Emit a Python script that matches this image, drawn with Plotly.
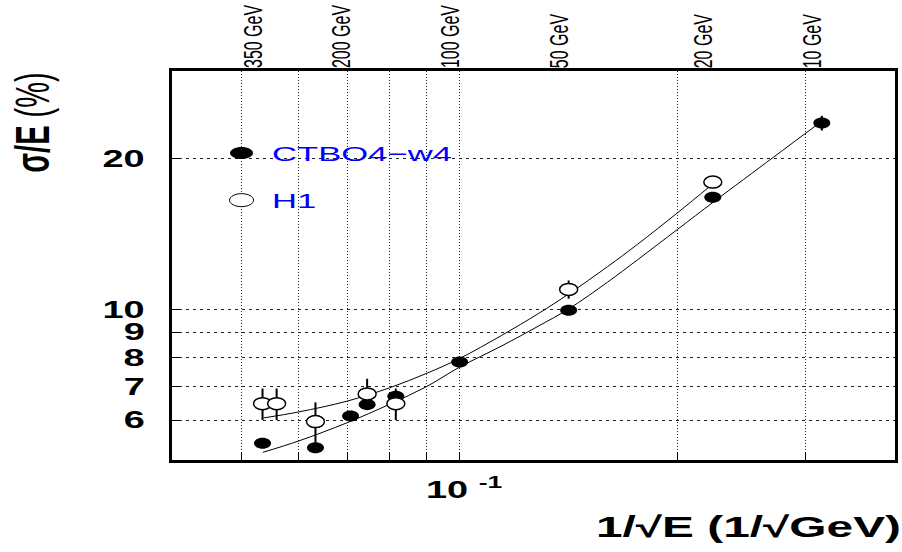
import numpy as np
import plotly.graph_objects as go

# Measured energy resolution sigma/E (%) versus beam energy (GeV)
ctb_energy = [350, 250, 200, 180, 150, 100, 50, 20, 10]
ctb_sigma = [5.40, 5.29, 6.12, 6.46, 6.71, 7.85, 9.97, 16.77, 23.6]
ctb_err = [0.10, 0.10, 0.10, 0.10, 0.15, 0.15, 0.20, 0.30, 0.80]

h1_energy = [350, 320, 250, 180, 150, 50, 20]
h1_sigma = [6.48, 6.48, 5.97, 6.78, 6.48, 10.97, 17.98]
h1_err = [0.47, 0.47, 0.55, 0.49, 0.47, 0.46, 0.20]

# Fitted resolution curves, abscissa is 1/sqrt(E)
ctb_fit_x = [0.0535, 0.06, 0.07, 0.08, 0.09, 0.1, 0.1142, 0.1284, 0.1415, 0.16, 0.176, 0.2, 0.2245, 0.2715, 0.313]
ctb_fit_y = [5.18, 5.46, 5.94, 6.46, 7.01, 7.67, 8.45, 9.26, 10.03, 11.34, 12.57, 14.47, 16.44, 20.19, 23.54]
h1_fit_x = [0.0536, 0.06, 0.07, 0.08, 0.09, 0.1, 0.1142, 0.1284, 0.1418, 0.16, 0.176, 0.2, 0.2233]
h1_fit_y = [6.07, 6.24, 6.56, 6.97, 7.45, 7.98, 8.87, 9.81, 10.77, 12.18, 13.5, 15.62, 17.8]

# Axis decorations
energy_marks = [350, 200, 100, 50, 20, 10]
x_grid = [0.05, 0.06, 0.07, 0.08, 0.09, 0.1, 0.2, 0.3]
y_ticks = [6, 7, 8, 9, 10, 20]

FONT = "Liberation Sans, Arial, Helvetica, sans-serif"
BLUE = "#0000ff"


def inv_sqrt(energies):
    return 1.0 / np.sqrt(np.asarray(energies, dtype=float))


ctb_x = inv_sqrt(ctb_energy)
h1_x = inv_sqrt(h1_energy)

fig = go.Figure()

# fit curves
for fx, fy in [(ctb_fit_x, ctb_fit_y), (h1_fit_x, h1_fit_y)]:
    fig.add_trace(go.Scatter(x=fx, y=fy, mode="lines", hoverinfo="skip",
                             line=dict(color="black", width=1, shape="spline", smoothing=1.0)))

# error bars (the point symbols are drawn as ellipses below)
for xs, ys, es, name in [(ctb_x, ctb_sigma, ctb_err, "CTBO4-w4"), (h1_x, h1_sigma, h1_err, "H1")]:
    fig.add_trace(go.Scatter(
        x=xs, y=ys, mode="markers", name=name,
        marker=dict(size=2, color="rgba(0,0,0,0)"),
        error_y=dict(type="data", array=es, color="black", thickness=2, width=0),
    ))


def ellipse_path(w, h):
    """Closed ellipse (pixel units, centred on 0,0) built from four cubic Beziers."""
    rx, ry, k = w / 2, h / 2, 0.5523
    p = lambda a, b: f"{a:.3f},{b:.3f}"
    return (f"M {p(-rx, 0)} C {p(-rx, k * ry)} {p(-k * rx, ry)} {p(0, ry)} "
            f"C {p(k * rx, ry)} {p(rx, k * ry)} {p(rx, 0)} "
            f"C {p(rx, -k * ry)} {p(k * rx, -ry)} {p(0, -ry)} "
            f"C {p(-k * rx, -ry)} {p(-rx, -k * ry)} {p(-rx, 0)} Z")


def ellipse(xv, yv, w, h, fill, lw, xref="x", yref="y"):
    return dict(type="path", path=ellipse_path(w, h), xref=xref, yref=yref,
                xsizemode="pixel", ysizemode="pixel", xanchor=xv, yanchor=yv,
                fillcolor=fill, line=dict(color="black", width=lw), layer="above")


shapes = []
for xv, yv in zip(ctb_x, ctb_sigma):
    shapes.append(ellipse(float(xv), yv, 17, 11, "black", 0))
for xv, yv in zip(h1_x, h1_sigma):
    shapes.append(ellipse(float(xv), yv, 18, 12, "white", 1.5))

# legend symbols
shapes.append(ellipse(0.05, 0.789, 23, 12, "black", 0, yref="paper"))
shapes.append(ellipse(0.05, 0.668, 24, 13, "white", 1, yref="paper"))

ann = []
# energy labels along the top edge
for E in energy_marks:
    ann.append(dict(x=float(np.log10(1 / np.sqrt(E))), xref="x", y=1, yref="paper",
                    text=f"{E} GeV", textangle=-90, xanchor="center", yanchor="bottom",
                    xshift=-10, yshift=1, showarrow=False,
                    font=dict(family=FONT, size=16, color="black")))

# y tick labels
for v in y_ticks:
    ann.append(dict(x=0, xref="paper", y=float(np.log10(v)), yref="y", text=str(v),
                    xanchor="right", align="right", xshift=-27, showarrow=False,
                    borderpad=0, borderwidth=0,
                    font=dict(family=FONT, size=23, color="black", weight="bold")))

# x tick label
ann.append(dict(x=-1, xref="x", y=0, yref="paper", text="10 <sup>-1</sup>",
                xanchor="center", yanchor="top", xshift=4, yshift=-11, showarrow=False,
                font=dict(family=FONT, size=23, color="black", weight="bold")))

# axis titles
ann.append(dict(x=0.797, xref="paper", y=-0.172, yref="paper", text="1/\u221aE (1/\u221aGeV)",
                xanchor="center", yanchor="middle", showarrow=False,
                font=dict(family=FONT, size=29, color="black", weight="bold")))
ann.append(dict(x=-0.1928, xref="paper", y=0.866, yref="paper",
                text="\u03c3/E <span style='font-weight:normal'>(%)</span>",
                textangle=-90, xanchor="center", yanchor="middle", showarrow=False,
                font=dict(family=FONT, size=29, color="black", weight="bold")))

# legend labels
ann.append(dict(x=0.139, xref="paper", y=0.789, yref="paper", text="CTBO4\u2212w4",
                xanchor="left", align="left", xshift=-2, yanchor="middle", showarrow=False,
                font=dict(family=FONT, size=21, color=BLUE)))
ann.append(dict(x=0.139, xref="paper", y=0.666, yref="paper", text="H1",
                xanchor="left", align="left", xshift=-2, yanchor="middle", showarrow=False,
                font=dict(family=FONT, size=21, color=BLUE)))

fig.update_layout(
    width=902, height=552,
    margin=dict(l=172, r=4, t=71, b=92),
    paper_bgcolor="white", plot_bgcolor="white",
    showlegend=False,
    shapes=shapes, annotations=ann,
)
fig.update_xaxes(
    type="log", range=[-1.397, -0.399],
    tickvals=x_grid, showticklabels=False,
    showgrid=True, gridcolor="#222", gridwidth=1, griddash="1px,2px",
    showline=True, linecolor="black", linewidth=2.5, mirror=True,
    ticks="inside", ticklen=7, tickcolor="black", tickwidth=1,
    zeroline=False,
)
fig.update_yaxes(
    type="log", range=[0.699, 1.477],
    tickvals=y_ticks, showticklabels=False,
    showgrid=True, gridcolor="#222", gridwidth=1, griddash="3px,4px",
    showline=True, linecolor="black", linewidth=2.5, mirror=True,
    ticks="inside", ticklen=8, tickcolor="black", tickwidth=1,
    zeroline=False,
)

# widen the lettering horizontally; rotated labels are widened across their glyph height
POST = r"""
(function(){
  var gd = document.getElementById('{plot_id}');
  var S = 1.65;
  function stretch(){
    gd.querySelectorAll('text.annotation-text').forEach(function(t){
      if (t.getAttribute('data-wide')) return;
      var g = t.closest('.annotation-text-g');
      var tr = g ? (g.getAttribute('transform') || '') : '';
      var m = /rotate\(\s*(-?[\d.]+)/.exec(tr);
      var rot = !!(m && Math.abs(parseFloat(m[1])) > 1);
      var b = t.getBBox();
      var a = t.getAttribute('text-anchor');
      var cx = a === 'end' ? b.x + b.width : (a === 'start' ? b.x : b.x + b.width / 2);
      var cy = b.y + b.height / 2;
      var sc = rot ? 'scale(1,' + S + ')' : 'scale(' + S + ',1)';
      var old = t.getAttribute('transform') || '';
      t.setAttribute('transform', old + ' translate(' + cx + ',' + cy + ') ' + sc +
                     ' translate(' + (-cx) + ',' + (-cy) + ')');
      t.setAttribute('data-wide', '1');
    });
  }
  stretch();
  gd.on('plotly_afterplot', stretch);
})();
"""

fig.write_html("out.html", post_script=POST)
